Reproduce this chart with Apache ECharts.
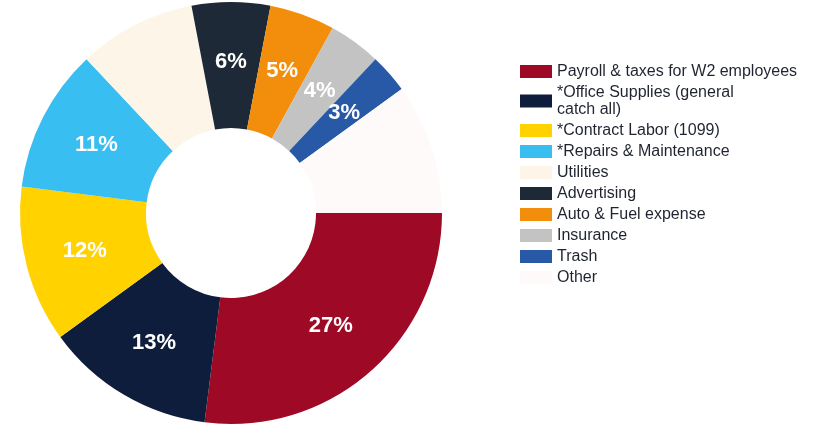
<!DOCTYPE html>
<html>
<head>
<meta charset="utf-8">
<script src="https://cdn.jsdelivr.net/npm/echarts@6/dist/echarts.min.js"></script>
<style>
  html, body { margin: 0; padding: 0; background: #ffffff; }
  #chart { width: 823px; height: 426px; }
</style>
</head>
<body>
<div id="chart"></div>
<script>
// Expense categories and their share of total spending (percent)
const categories = [
  'Payroll & taxes for W2 employees',
  '*Office Supplies (general\ncatch all)',
  '*Contract Labor (1099)',
  '*Repairs & Maintenance',
  'Utilities',
  'Advertising',
  'Auto & Fuel expense',
  'Insurance',
  'Trash',
  'Other'
];
const shares = [27, 13, 12, 11, 9, 6, 5, 4, 3, 10];
const colors = [
  '#9e0a25', '#0f1d3c', '#ffd200', '#38bef1', '#fcf5e8',
  '#1d2936', '#f38e0c', '#c3c3c3', '#2859a6', '#fffafa'
];
// pale slices carry white labels that do not read against them
const hiddenLabels = ['Utilities', 'Other'];

const chart = echarts.init(document.getElementById('chart'), null, { renderer: 'canvas' });

chart.setOption({
  animation: false,
  backgroundColor: '#ffffff',
  color: colors,
  legend: {
    orient: 'vertical',
    left: 515,
    top: 58,
    itemWidth: 32,
    itemHeight: 13,
    itemGap: 4,
    icon: 'rect',
    textStyle: {
      fontFamily: 'Liberation Sans, Arial, sans-serif',
      fontSize: 16,
      lineHeight: 17,
      color: '#1f2430'
    },
    data: categories
  },
  series: [{
    type: 'pie',
    center: [231, 213],
    radius: [85, 211],
    startAngle: 0,
    clockwise: true,
    avoidLabelOverlap: false,
    label: {
      show: true,
      position: 'inside',
      formatter: '{c}%',
      color: '#ffffff',
      fontFamily: 'Liberation Sans, Arial, sans-serif',
      fontSize: 22,
      fontWeight: 'bold'
    },
    labelLine: { show: false },
    itemStyle: { borderWidth: 0 },
    emphasis: { disabled: true },
    data: categories.map((name, i) => ({
      name,
      value: shares[i],
      label: hiddenLabels.includes(name) ? { show: false } : undefined
    }))
  }]
});
</script>
</body>
</html>
